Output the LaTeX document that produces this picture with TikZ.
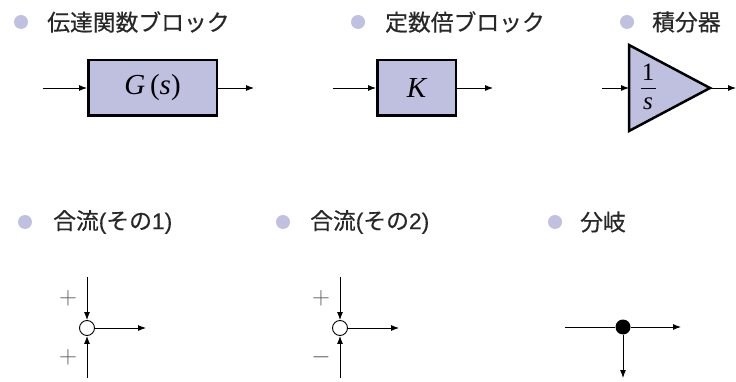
\documentclass[tikz,border=0pt]{standalone}
\usepackage{fontspec}
\newfontfamily\jp[FakeBold=0.5]{Noto Sans CJK JP}
\newfontfamily\lat[FakeBold=0.3]{Liberation Sans}
\newfontfamily\tms{Liberation Serif}
\usetikzlibrary{arrows.meta}
\definecolor{bul}{RGB}{192,192,224}
\definecolor{blk}{RGB}{191,192,224}
\definecolor{txt}{RGB}{40,40,40}
\definecolor{sgn}{RGB}{90,90,90}
\begin{document}
\begin{tikzpicture}[x=1pt,y=-1pt,
  bullet/.style={circle,fill=bul,minimum size=14pt,inner sep=0pt},
  title/.style={anchor=west,inner sep=0pt,font=\jp\fontsize{22.8}{26}\selectfont,text=txt},
  blockbox/.style={draw=black,line width=2.5pt,fill=blk,inner sep=0pt,font=\tms\fontsize{29}{32}\selectfont},
  sig/.style={-{Latex[length=8pt,width=6pt]},line width=0.9pt},
  wire/.style={line width=0.9pt},
  sumc/.style={circle,draw,line width=0.9pt,fill=white,minimum size=15pt,inner sep=0pt},
  dotc/.style={circle,fill=black,minimum size=15pt,inner sep=0pt},
  signlbl/.style={inner sep=0pt,text=sgn,font=\fontsize{27}{29}\selectfont},
  fraclbl/.style={inner sep=0pt,font=\tms\fontsize{25}{28}\selectfont}]
\useasboundingbox (0,0) rectangle (736,382);
% titles row 1
\node[bullet] (b1) at (21,22) {};
\node[title] (t1) at (47,22) {伝達関数ブロック};
\node[bullet] (b2) at (358,22) {};
\node[title] (t2) at (385,22) {定数倍ブロック};
\node[bullet] (b3) at (627,22) {};
\node[title] (t3) at (652,22) {積分器};
% transfer function block
\node[blockbox,minimum width=128.5pt,minimum height=55.5pt] (gbox) at (152.5,88) {\itshape G\,\upshape(\itshape s\upshape)};
\coordinate (gin) at (43,88);
\coordinate (gout) at (254,88);
\draw[sig] (gin) -- (gbox.west);
\draw[sig] (gbox.east) -- (gout);
% constant block
\node[blockbox,minimum width=78.5pt,minimum height=55.5pt] (kbox) at (416.5,88) {\itshape K};
\coordinate (kin) at (333,88);
\coordinate (kout) at (493,88);
\draw[sig] (kin) -- (kbox.west);
\draw[sig] (kbox.east) -- (kout);
% integrator
\coordinate (ta) at (629,45);
\coordinate (tb) at (629,131);
\coordinate (tc) at (710,88);
\coordinate (tl) at (629,88);
\draw[line width=2.5pt,fill=blk,line join=miter] (ta) -- (tc) -- (tb) -- cycle;
\node[fraclbl] (fnum) at (648,72) {1};
\node[fraclbl,font=\tms\itshape\fontsize{25}{28}\selectfont] (fden) at (648,104) {s};
\coordinate (fba) at (641,88);
\coordinate (fbb) at (656,88);
\draw[line width=0.8pt] (fba) -- (fbb);
\coordinate (iin) at (602,88);
\coordinate (iout) at (736,88);
\draw[sig] (iin) -- (tl);
\draw[sig] (tc) -- (iout);
% titles row 2
\node[bullet] (b4) at (25,222) {};
\node[title] (t4) at (53,222) {合流{\lat(}その{\lat 1)}};
\node[bullet] (b5) at (283,222) {};
\node[title] (t5) at (310,222) {合流{\lat(}その{\lat 2)}};
\node[bullet] (b6) at (555,222) {};
\node[title] (t6) at (580,222) {分岐};
% summing junction 1
\node[sumc] (s1) at (87,328) {};
\coordinate (s1t) at (87,277);
\coordinate (s1b) at (87,378);
\coordinate (s1o) at (146,328);
\draw[sig] (s1t) -- (s1.north);
\draw[sig] (s1b) -- (s1.south);
\draw[sig] (s1.east) -- (s1o);
\node[signlbl] (p1) at (68,298) {$+$};
\node[signlbl] (p2) at (68,357) {$+$};
% summing junction 2
\node[sumc] (s2) at (340,328) {};
\coordinate (s2t) at (340,277);
\coordinate (s2b) at (340,378);
\coordinate (s2o) at (399,328);
\draw[sig] (s2t) -- (s2.north);
\draw[sig] (s2b) -- (s2.south);
\draw[sig] (s2.east) -- (s2o);
\node[signlbl] (p3) at (321,298) {$+$};
\node[signlbl] (m1) at (321,357) {$-$};
% branch
\node[dotc] (br) at (623,327) {};
\coordinate (brin) at (565,327);
\coordinate (brout) at (681,327);
\coordinate (brdn) at (623,378);
\draw[wire] (brin) -- (br);
\draw[sig] (br) -- (brout);
\draw[sig] (br) -- (brdn);
\end{tikzpicture}
\end{document}
